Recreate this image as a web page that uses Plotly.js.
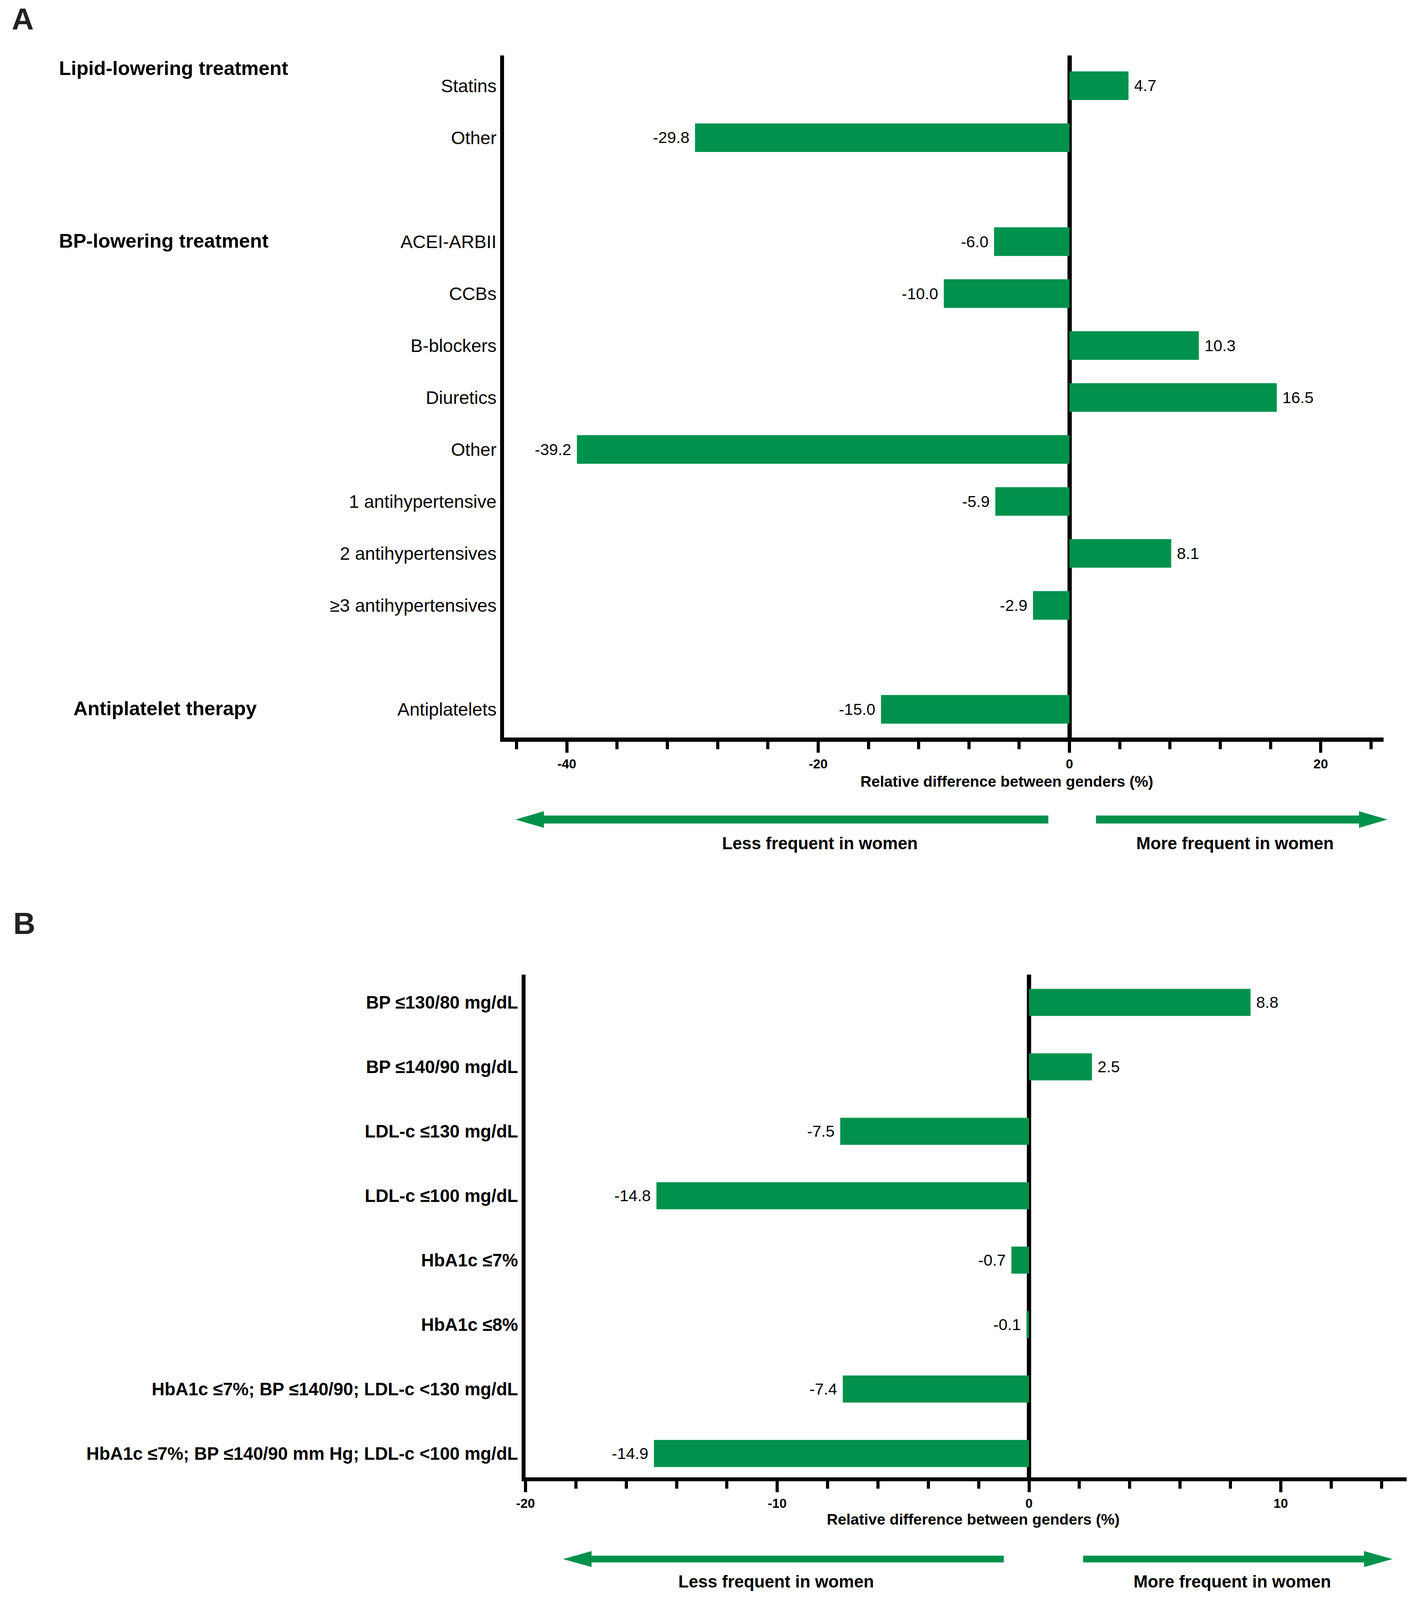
<!DOCTYPE html>
<html>
<head>
<meta charset="utf-8">
<script src="https://cdn.plot.ly/plotly-3.0.1.min.js"></script>
<style>html,body{margin:0;padding:0;background:#fff;overflow:hidden;}</style>
</head>
<body>
<div id="chart"></div>
<script>
// ---------- DATA ----------
const groupNamesA = ["Lipid-lowering treatment", "BP-lowering treatment", "Antiplatelet therapy"];
const lipidLabels = ["Statins", "Other"];
const lipidValues = [4.7, -29.8];
const bpLabels = ["ACEI-ARBII", "CCBs", "B-blockers", "Diuretics", "Other", "1 antihypertensive", "2 antihypertensives", "\u22653 antihypertensives"];
const bpValues = [-6.0, -10.0, 10.3, 16.5, -39.2, -5.9, 8.1, -2.9];
const antiLabels = ["Antiplatelets"];
const antiValues = [-15.0];
const targetLabelsB = ["BP \u2264130/80 mg/dL", "BP \u2264140/90 mg/dL", "LDL-c \u2264130 mg/dL", "LDL-c \u2264100 mg/dL", "HbA1c \u22647%", "HbA1c \u22648%", "HbA1c \u22647%; BP \u2264140/90; LDL-c <130 mg/dL", "HbA1c \u22647%; BP \u2264140/90 mm Hg; LDL-c <100 mg/dL"];
const targetValuesB = [8.8, 2.5, -7.5, -14.8, -0.7, -0.1, -7.4, -14.9];
const xTicksA = [-40, -20, 0, 20];
const xTicksB = [-20, -10, 0, 10];
const axisTitle = "Relative difference between genders (%)";
const lessText = "Less frequent in women";
const moreText = "More frequent in women";

// ---------- positions (groups separated by one empty slot) ----------
const groupsA = [[lipidLabels, lipidValues], [bpLabels, bpValues], [antiLabels, antiValues]];
const labelsA = [], valuesA = [], posA = [];
let p = 0;
groupsA.forEach((g) => {
  g[0].forEach((lab, i) => { labelsA.push(lab); valuesA.push(g[1][i]); posA.push(p); p++; });
  p++;
});
const posB = targetLabelsB.map((_, i) => i);

// reference frame 3647x5197, fitted to the real viewport
const RW = 3647, RH = 5197;
const VW = window.innerWidth || RW, VH = window.innerHeight || RH;
const sx = VW / RW, sy = VH / RH, fs = Math.pow(sx, 0.7) * Math.pow(sy, 0.3);
const chartDiv = document.getElementById("chart");
chartDiv.style.width = VW + "px"; chartDiv.style.height = VH + "px";
const px = x => x / RW;
const py = y => 1 - y / RH;
const F = v => v * fs;
const GREEN = "#00914c";
const FONT = "Liberation Sans, Arial, Helvetica, sans-serif";
const NB = "\u00a0";
// value label with a small gap on the side away from the bar
const fmt = v => v < 0 ? "-" + Math.abs(v).toFixed(1) + NB : NB + v.toFixed(1);

const traceA = {
  type: "bar", orientation: "h", x: valuesA, y: posA, xaxis: "x", yaxis: "y", width: 0.55,
  marker: { color: GREEN, line: { width: 0 } },
  text: valuesA.map(fmt), textposition: "outside", constraintext: "none", cliponaxis: false,
  textfont: { family: FONT, size: F(44), color: "#000" }, hoverinfo: "skip"
};
const traceB = {
  type: "bar", orientation: "h", x: targetValuesB, y: posB, xaxis: "x2", yaxis: "y2", width: 0.42,
  marker: { color: GREEN, line: { width: 0 } },
  text: targetValuesB.map(fmt), textposition: "outside", constraintext: "none", cliponaxis: false,
  textfont: { family: FONT, size: F(44), color: "#000" }, hoverinfo: "skip"
};
function xAxisCfg(domain, range, ticks, minorStep) {
  return {
    domain: domain, range: range, fixedrange: true,
    showgrid: false, zeroline: true, zerolinecolor: "#000", zerolinewidth: 11 * sx,
    showline: true, linecolor: "#000", linewidth: 13 * sy,
    ticks: "outside", ticklen: 36 * sy, tickwidth: 8 * sx, tickcolor: "#000",
    tickmode: "array", tickvals: ticks, ticktext: ticks.map(String),
    tickfont: { family: FONT, size: F(36), color: "#000", weight: "bold" },
    minor: { tickmode: "linear", tick0: 0, dtick: minorStep, ticks: "outside", ticklen: 24 * sy, tickwidth: 8 * sx, tickcolor: "#000", showgrid: false }
  };
}
function yAxisCfg(domain, range, vals, texts, font) {
  return {
    domain: domain, range: range, fixedrange: true, showgrid: false, zeroline: false,
    showline: true, linecolor: "#000", linewidth: 10 * sx,
    ticks: "", tickmode: "array", tickvals: vals, ticktext: texts, ticklabelstandoff: 0, tickfont: font
  };
}
const layout = {
  width: VW, height: VH, margin: { l: 0, r: 0, t: 0, b: 0 },
  paper_bgcolor: "#fff", plot_bgcolor: "#fff", showlegend: false,
  font: { family: FONT, color: "#000" },
  xaxis: Object.assign(xAxisCfg([px(1290), px(3541)], [-45, 25], xTicksA, 4), { anchor: "y" }),
  yaxis: Object.assign(yAxisCfg([py(2396), py(180)], [12.545, -0.583], posA, labelsA, { family: FONT, size: F(50), color: "#000" }), { anchor: "x" }),
  xaxis2: Object.assign(xAxisCfg([px(1345), px(3600)], [-20, 15], xTicksB, 2), { anchor: "y2" }),
  yaxis2: Object.assign(yAxisCfg([py(4798), py(3166)], [7.368, -0.43], posB, targetLabelsB, { family: FONT, size: F(49), color: "#000", weight: "bold" }), { anchor: "x2" }),
  shapes: [], annotations: []
};
function ann(text, x, y, size, opts) {
  return Object.assign({ text: text, x: px(x), y: py(y), xref: "paper", yref: "paper",
    showarrow: false, xanchor: "center", yanchor: "middle",
    font: { family: FONT, size: F(size), color: "#000", weight: "bold" } }, opts || {});
}
layout.annotations.push(ann("A", 58, 62, 84, { font: { family: FONT, size: F(84), color: "#222", weight: "bold" } }));
layout.annotations.push(ann("B", 62, 3000, 84, { font: { family: FONT, size: F(84), color: "#222", weight: "bold" } }));
layout.annotations.push(ann(groupNamesA[0], 149, 222, 54, { xanchor: "left" }));
layout.annotations.push(ann(groupNamesA[1], 149, 782, 54, { xanchor: "left" }));
layout.annotations.push(ann(groupNamesA[2], 186, 2301, 54, { xanchor: "left" }));
layout.annotations.push(ann(axisTitle, 2577, 2538, 42));
layout.annotations.push(ann(axisTitle, 2491, 4935, 42));
layout.annotations.push(ann(lessText, 2098, 2739, 47));
layout.annotations.push(ann(moreText, 3161, 2739, 47));
layout.annotations.push(ann(lessText, 1986, 5137, 47));
layout.annotations.push(ann(moreText, 3154, 5137, 47));
// direction arrows (reference-frame pixels -> paper fractions)
function arrow(xTail, xTip, yc, sh, hh, hl) {
  const d = Math.sign(xTip - xTail);
  const xb = xTip - d * hl;
  const pts = [[xTail, yc - sh], [xb, yc - sh], [xb, yc - hh], [xTip, yc], [xb, yc + hh], [xb, yc + sh], [xTail, yc + sh]];
  const path = pts.map((q, i) => (i ? "L" : "M") + px(q[0]).toFixed(6) + "," + py(q[1]).toFixed(6)).join(" ") + " Z";
  return { type: "path", xref: "paper", yref: "paper", path: path, fillcolor: GREEN, line: { width: 0 } };
}
layout.shapes.push(arrow(2683, 1319, 2662, 13, 27, 73));
layout.shapes.push(arrow(2805, 3551, 2662, 13, 27, 73));
layout.shapes.push(arrow(2569, 1441, 5064, 11, 26, 73));
layout.shapes.push(arrow(2772, 3564, 5064, 11, 26, 73));
Plotly.newPlot(chartDiv, [traceA, traceB], layout, { staticPlot: true, displayModeBar: false });
</script>
</body>
</html>
